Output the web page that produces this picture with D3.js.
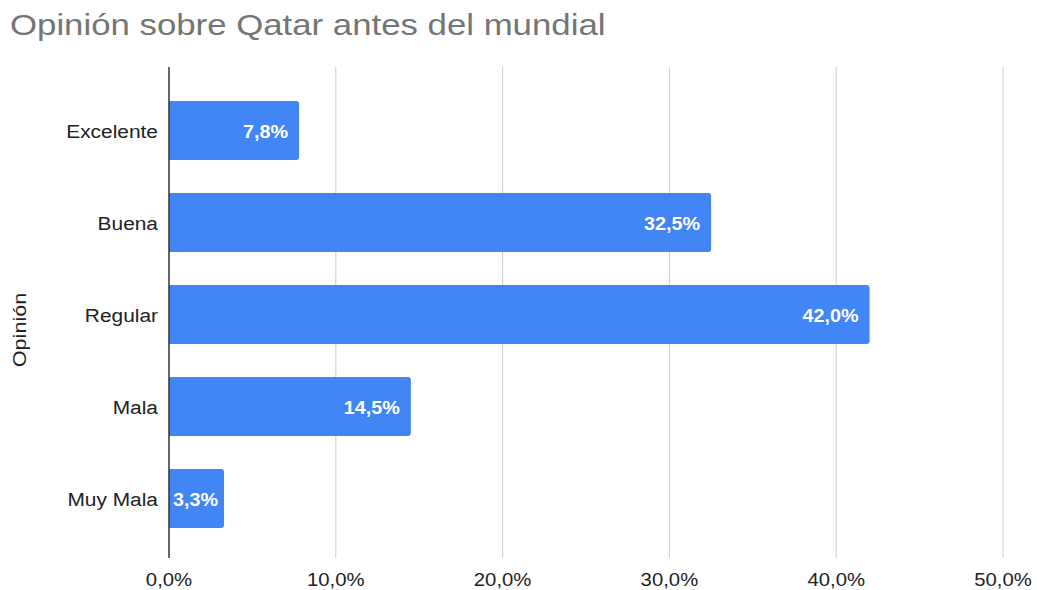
<!DOCTYPE html>
<html>
<head>
<meta charset="utf-8">
<script src="https://cdn.jsdelivr.net/npm/d3@7"></script>
<style>
  body { margin: 0; background: #fff; }
  svg { font-family: 'Liberation Sans', Arial, sans-serif; }
</style>
</head>
<body>
<div class="canvas"></div>
<script>
// data
const categories = ['Excelente', 'Buena', 'Regular', 'Mala', 'Muy Mala'];
const values = [7.8, 32.5, 42.0, 14.5, 3.3];
const ticks = [0, 10, 20, 30, 40, 50];

const fmt = (v) => v.toFixed(1).replace('.', ',') + '%';

const dims = { width: 1037, height: 590 };
const plot = { left: 169, right: 1003, top: 67, bottom: 558 };

// text in the original is a bit stretched sideways
const at = (px, py, sx) => `translate(${px}, ${py}) scale(${sx}, 1)`;

const svg = d3
  .select('.canvas')
  .append('svg')
  .attr('width', dims.width)
  .attr('height', dims.height);

// title
svg
  .append('text')
  .attr('transform', at(10, 35, 1.16))
  .attr('font-size', '30px')
  .attr('fill', '#757575')
  .text('Opinión sobre Qatar antes del mundial');

const x = d3.scaleLinear().domain([0, 50]).range([plot.left, plot.right]);

const y = d3
  .scaleBand()
  .domain(categories)
  .range([84.5, 544.5])
  .paddingInner(0.36)
  .paddingOuter(0.18);

// gridlines
svg
  .append('g')
  .selectAll('line')
  .data(ticks.slice(1))
  .enter()
  .append('line')
  .attr('x1', (d) => x(d))
  .attr('x2', (d) => x(d))
  .attr('y1', plot.top)
  .attr('y2', plot.bottom)
  .attr('stroke', '#cccccc')
  .attr('stroke-width', 1);

// x tick labels
svg
  .append('g')
  .selectAll('text')
  .data(ticks)
  .enter()
  .append('text')
  .attr('transform', (d) => at(x(d), 586, 1.07))
  .attr('text-anchor', 'middle')
  .attr('font-size', '19px')
  .attr('fill', '#222')
  .text((d) => fmt(d));

// bars
const bars = svg.append('g');
bars
  .selectAll('path')
  .data(values)
  .enter()
  .append('path')
  .attr('fill', '#4285f4')
  .attr('d', (d, i) => {
    const x0 = x(0), x1 = x(d), y0 = y(categories[i]), h = y.bandwidth(), r = 3;
    return `M${x0},${y0}H${x1 - r}Q${x1},${y0} ${x1},${y0 + r}V${y0 + h - r}Q${x1},${y0 + h} ${x1 - r},${y0 + h}H${x0}Z`;
  });

// value labels (pushed right of the axis when the bar is too short)
bars
  .selectAll('text')
  .data(values)
  .enter()
  .append('text')
  .attr('text-anchor', 'end')
  .attr('font-size', '19px')
  .attr('font-weight', 'bold')
  .attr('fill', '#ffffff')
  .text((d) => fmt(d))
  .each(function (d, i) {
    const w = this.getComputedTextLength() * 1.04;
    const end = Math.max(x(d) - 11, x(0) + 4 + w);
    d3.select(this).attr('transform', at(end, y(categories[i]) + y.bandwidth() / 2 + 7, 1.04));
  });

// category labels
svg
  .append('g')
  .selectAll('text')
  .data(categories)
  .enter()
  .append('text')
  .attr('transform', (d) => at(158, y(d) + y.bandwidth() / 2 + 7, 1.1))
  .attr('text-anchor', 'end')
  .attr('font-size', '19px')
  .attr('fill', '#222')
  .text((d) => d);

// axis line
svg
  .append('line')
  .attr('x1', x(0))
  .attr('x2', x(0))
  .attr('y1', plot.top)
  .attr('y2', plot.bottom)
  .attr('stroke', '#333')
  .attr('stroke-width', 1.5);

// y axis title
svg
  .append('text')
  .attr('transform', 'translate(26, 330) rotate(-90) scale(1.2, 1)')
  .attr('text-anchor', 'middle')
  .attr('font-size', '18px')
  .attr('fill', '#222')
  .text('Opinión');
</script>
</body>
</html>
